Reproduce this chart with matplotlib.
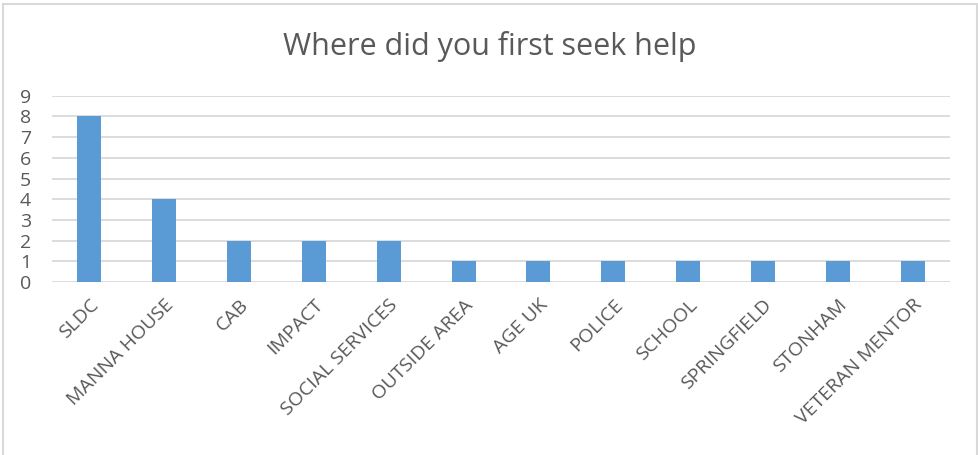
import matplotlib
matplotlib.use("Agg")
import matplotlib.pyplot as plt
from matplotlib.patches import Rectangle

categories = ["SLDC", "MANNA HOUSE", "CAB", "IMPACT", "SOCIAL SERVICES", "OUTSIDE AREA",
              "AGE UK", "POLICE", "SCHOOL", "SPRINGFIELD", "STONHAM", "VETERAN MENTOR"]
counts = [8, 4, 2, 2, 2, 1, 1, 1, 1, 1, 1, 1]
y_ticks = list(range(0, 10))
title = "Where did you first seek help"

W, H = 979, 455
fig = plt.figure(figsize=(W / 100, H / 100), dpi=100)
fig.patch.set_facecolor("white")

# outer chart frame (open at the bottom edge)
fig.patches.append(Rectangle((3 / W, -0.05), (977 - 3) / W, (H - 4) / H + 0.05,
                             transform=fig.transFigure, fill=False,
                             edgecolor="#d9d9d9", linewidth=1.5))

ax = fig.add_axes([52 / W, 1 - 282 / H, (950 - 52) / W, (282 - 95.7) / H])
x = list(range(len(categories)))
ax.bar(x, counts, width=0.32, color="#5b9bd5", zorder=3)
ax.set_xlim(-0.5, len(categories) - 0.5)
ax.set_ylim(0, 9)
ax.set_yticks(y_ticks)
ax.yaxis.grid(True, color="#d9d9d9", linewidth=1.3, zorder=0)
ax.set_axisbelow(True)
for s in ax.spines.values():
    s.set_visible(False)
ax.tick_params(axis="both", length=0, colors="#595959")
ax.tick_params(axis="y", labelsize=14, pad=19)
for lbl in ax.get_yticklabels():
    lbl.set_fontfamily("Open Sans")
    lbl.set_horizontalalignment("center")
ax.set_xticks(x)
ax.set_xticklabels(categories, rotation=45, ha="right", rotation_mode="anchor",
                   fontsize=14, fontfamily="Open Sans", color="#595959")
ax.tick_params(axis="x", pad=10)

fig.text(490 / W, 1 - 46 / H, title, ha="center", va="center", fontsize=22,
         fontfamily="Open Sans", color="#595959")

fig.savefig("out.png", dpi=100)
